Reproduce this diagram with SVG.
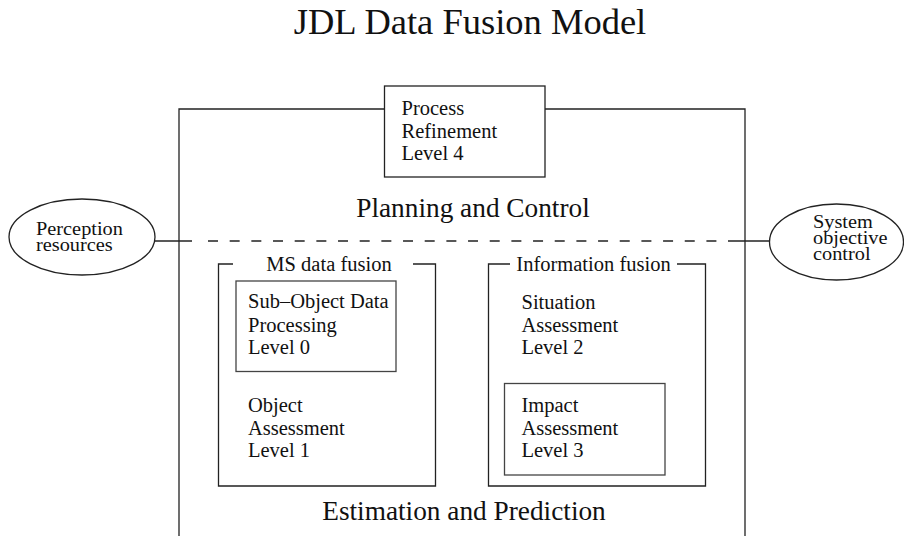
<svg xmlns="http://www.w3.org/2000/svg" width="904" height="536" viewBox="0 0 904 536">
  <style>
    text { font-family: "Liberation Serif", "Times New Roman", serif; fill: #111; }
    .lbl { font-size: 20.5px; }
    .small { font-size: 18px; }
    .big { font-size: 27.3px; }
    .title { font-size: 36.5px; }
    .edge { fill: none; stroke: #222; stroke-width: 1.3; }
    .inner { fill: none; stroke: #444; stroke-width: 1.3; }
    .dash { stroke-dasharray: 10 11.67; }
  </style>
  <rect width="904" height="536" fill="#fff"/>

  <text class="title" x="470" y="34" text-anchor="middle">JDL Data Fusion Model</text>

  <!-- outer frame: planning/control above, estimation/prediction below -->
  <g id="frame">
    <path class="edge" d="M384 109 H179 V536 M545 109 H745 V536"/>
    <text class="big" x="473" y="217" text-anchor="middle">Planning and Control</text>
    <text class="big" x="464" y="520" text-anchor="middle">Estimation and Prediction</text>
  </g>

  <g id="process-refinement">
    <rect class="edge" x="384.5" y="86" width="160.5" height="91"/>
    <text class="lbl" x="401.5" y="115">Process</text>
    <text class="lbl" x="401.5" y="138">Refinement</text>
    <text class="lbl" x="401.5" y="160">Level 4</text>
  </g>

  <!-- ellipse labels: short, widened type set tightly -->
  <g id="perception-resources">
    <ellipse class="edge" cx="82" cy="237" rx="73" ry="38"/>
    <g transform="translate(36 0) scale(1.13 1)">
      <text class="small" x="0" y="235">Perception</text>
      <text class="small" x="0" y="251.5">resources</text>
    </g>
  </g>

  <g id="system-objective-control">
    <ellipse class="edge" cx="836.5" cy="242" rx="67" ry="38"/>
    <g transform="translate(813 0) scale(1.13 1)">
      <text class="small" x="0" y="228">System</text>
      <text class="small" x="0" y="244.5">objective</text>
      <text class="small" x="0" y="260.5">control</text>
    </g>
  </g>

  <g id="ms-data-fusion">
    <path class="edge" d="M233 264 H218.5 V486 H435.5 V264 H413"/>
    <text class="lbl" x="329" y="270.5" text-anchor="middle">MS data fusion</text>
  </g>

  <g id="sub-object-level0">
    <rect class="inner" x="236" y="281" width="160" height="90.5"/>
    <text class="lbl" x="248" y="308">Sub–Object Data</text>
    <text class="lbl" x="248" y="331.5">Processing</text>
    <text class="lbl" x="248" y="354">Level 0</text>
  </g>

  <g id="object-level1">
    <text class="lbl" x="248" y="411.5">Object</text>
    <text class="lbl" x="248" y="434.5">Assessment</text>
    <text class="lbl" x="248" y="457">Level 1</text>
  </g>

  <g id="information-fusion">
    <path class="edge" d="M510 264 H488.5 V486 H705.5 V264 H677"/>
    <text class="lbl" x="593.5" y="270.5" text-anchor="middle">Information fusion</text>
  </g>

  <g id="situation-level2">
    <text class="lbl" x="521.5" y="309">Situation</text>
    <text class="lbl" x="521.5" y="331.5">Assessment</text>
    <text class="lbl" x="521.5" y="354">Level 2</text>
  </g>

  <g id="impact-level3">
    <rect class="inner" x="504.5" y="383.5" width="160.5" height="91.5"/>
    <text class="lbl" x="521.5" y="411.5">Impact</text>
    <text class="lbl" x="521.5" y="434.5">Assessment</text>
    <text class="lbl" x="521.5" y="457">Level 3</text>
  </g>

  <!-- link between the two external ellipses, dashed across the frame -->
  <g id="connectors">
    <line class="edge" x1="155" y1="241" x2="192" y2="241"/>
    <line class="edge dash" x1="208" y1="241" x2="718" y2="241"/>
    <line class="edge" x1="728" y1="241" x2="769.5" y2="241"/>
  </g>
</svg>
